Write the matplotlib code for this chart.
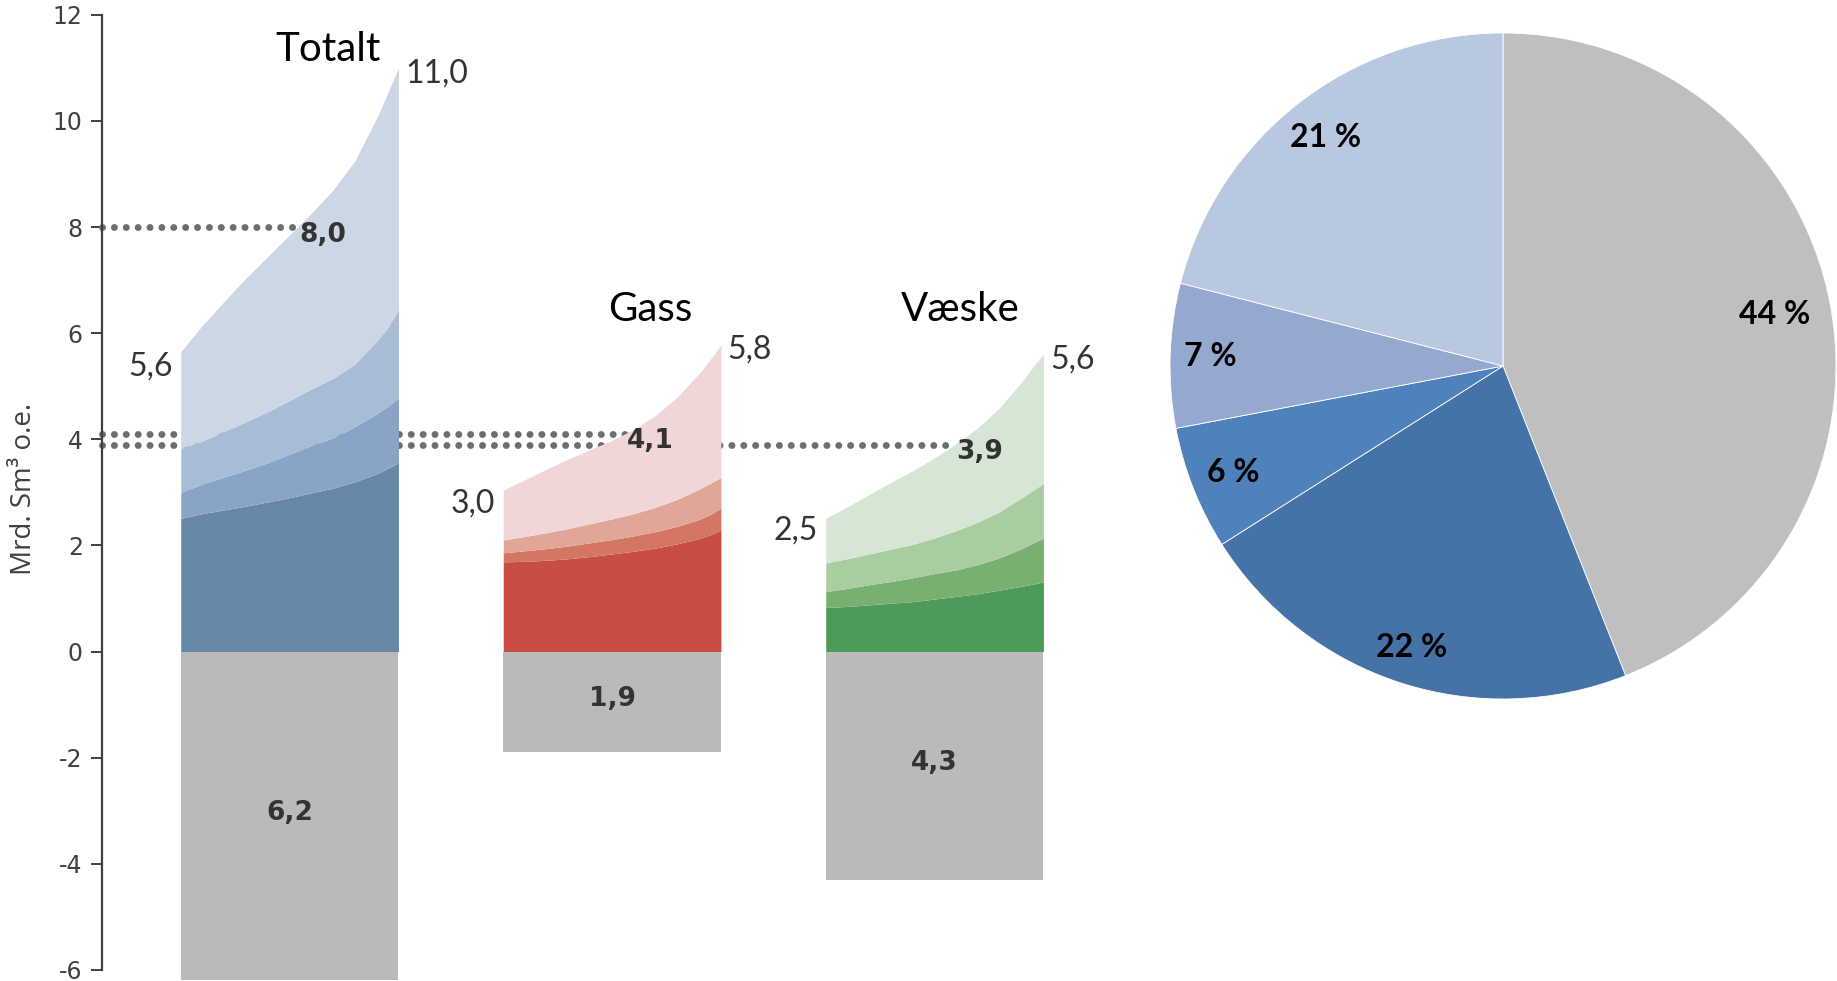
import numpy as np
import matplotlib
matplotlib.use("Agg")
import matplotlib.pyplot as plt

plt.rcParams['font.family'] = ['Open Sans', 'DejaVu Sans']
plt.rcParams['axes.unicode_minus'] = False

# --- data -------------------------------------------------------------
groups = ['Totalt', 'Gass', 'Væske']
t_grid = [0, 0.1, 0.2, 0.3, 0.4, 0.5, 0.6, 0.7, 0.8, 0.9, 0.95, 1.0]

# cumulative layer boundaries (bottom layer -> top), Mrd. Sm3 o.e.
totalt_l1 = [2.51, 2.60, 2.67, 2.74, 2.82, 2.90, 2.99, 3.08, 3.20, 3.35, 3.45, 3.56]
totalt_l2 = [3.00, 3.16, 3.29, 3.42, 3.56, 3.72, 3.88, 4.03, 4.24, 4.48, 4.62, 4.78]
totalt_l3 = [3.83, 3.97, 4.15, 4.33, 4.52, 4.73, 4.95, 5.15, 5.42, 5.85, 6.10, 6.45]
totalt_top = [5.65, 6.15, 6.60, 7.04, 7.45, 7.85, 8.26, 8.70, 9.25, 10.05, 10.52, 11.0]

gass_l1 = [1.69, 1.70, 1.72, 1.75, 1.79, 1.84, 1.89, 1.95, 2.03, 2.13, 2.20, 2.29]
gass_l2 = [1.86, 1.90, 1.94, 1.99, 2.05, 2.11, 2.18, 2.26, 2.36, 2.49, 2.58, 2.70]
gass_l3 = [2.10, 2.17, 2.24, 2.32, 2.41, 2.50, 2.60, 2.72, 2.87, 3.06, 3.17, 3.28]
gass_top = [3.04, 3.24, 3.44, 3.63, 3.81, 3.98, 4.19, 4.45, 4.80, 5.24, 5.50, 5.78]

vaeske_l1 = [0.83, 0.85, 0.88, 0.91, 0.94, 0.99, 1.04, 1.09, 1.16, 1.23, 1.27, 1.31]
vaeske_l2 = [1.13, 1.19, 1.26, 1.32, 1.39, 1.47, 1.54, 1.64, 1.77, 1.94, 2.04, 2.14]
vaeske_l3 = [1.67, 1.75, 1.84, 1.93, 2.02, 2.14, 2.28, 2.44, 2.64, 2.90, 3.03, 3.17]
vaeske_top = [2.51, 2.73, 2.96, 3.19, 3.41, 3.65, 3.92, 4.22, 4.60, 5.08, 5.35, 5.61]

start_values = [5.6, 3.0, 2.5]
mid_values = [8.0, 4.1, 3.9]
end_values = [11.0, 5.8, 5.6]
neg_values = [6.2, 1.9, 4.3]

pie_labels = ['44 %', '22 %', '6 %', '7 %', '21 %']
pie_shares = [44, 22, 6, 7, 21]

# --- styling ----------------------------------------------------------
layers = [
    [totalt_l1, totalt_l2, totalt_l3, totalt_top],
    [gass_l1, gass_l2, gass_l3, gass_top],
    [vaeske_l1, vaeske_l2, vaeske_l3, vaeske_top],
]
colors = [
    ['#6787A6', '#8AA4C8', '#A8BCD5', '#CBD7E5'],
    ['#C84D42', '#D47762', '#E0A797', '#F0D6D7'],
    ['#4E9A58', '#77B06F', '#A9CDA0', '#D5E6D4'],
]
grey = '#BABABA'
pie_colors = ['#BFBFBF', '#4572A7', '#4F81BD', '#95A9D0', '#B9C8E1']
pie_label_dist = [0.83, 0.89, 0.87, 0.88, 0.87]
txt_col = '#333333'
axis_col = '#404040'
dot_col = '#6E6E6E'

bar_w = 0.675
axis_x = -0.581
title_dx = [0.12, 0.118, 0.08]
title_y = [11.34, 6.45, 6.45]


def fmt(v):
    return f"{v:.1f}".replace('.', ',')


W, H = 1837, 981
fig = plt.figure(figsize=(W / 100, H / 100), dpi=100)
ax = fig.add_axes([0, 0, 1160 / W, 1])
ax.set_xlim(-0.898, 2.699)
ax.set_ylim(-6.21, 12.28)

t = np.array(t_grid)
for i, name in enumerate(groups):
    left = i - bar_w / 2
    x = left + t * bar_w
    lower = np.zeros_like(t)
    for lvl, col in zip(layers[i], colors[i]):
        upper = np.array(lvl)
        ax.fill_between(x, lower, upper, color=col, linewidth=0, zorder=3)
        lower = upper
    ax.bar(i, -neg_values[i], width=bar_w, color=grey, zorder=3)

    top = np.array(layers[i][-1])
    # dotted reference line from the axis to where the curve reaches the mid value
    x_hit = left + np.interp(mid_values[i], top, t) * bar_w
    ax.plot([axis_x, x_hit], [mid_values[i]] * 2, color=dot_col, lw=5,
            linestyle=(0, (0.01, 1.7)), dash_capstyle='round', zorder=2)
    ax.text(x_hit + 0.006, mid_values[i] - 0.14, fmt(mid_values[i]),
            family='DejaVu Sans', fontsize=19, fontweight='bold', color=txt_col,
            ha='left', va='center', zorder=5)

    ax.text(left - 0.025, start_values[i] - 0.22, fmt(start_values[i]),
            family='Lato', fontsize=23, color=txt_col, ha='right', va='center')
    ax.text(left + bar_w + 0.02, end_values[i] - 0.1, fmt(end_values[i]),
            family='Lato', fontsize=23, color=txt_col, ha='left', va='center')
    ax.text(i, -neg_values[i] / 2 + 0.05, fmt(neg_values[i]),
            family='DejaVu Sans', fontsize=19, fontweight='bold', color=txt_col,
            ha='center', va='center', zorder=5)
    ax.text(i + title_dx[i], title_y[i], name, family='Lato', fontsize=29,
            color='black', ha='center', va='center')

for s in ['top', 'right', 'bottom']:
    ax.spines[s].set_visible(False)
ax.spines['left'].set_position(('data', axis_x))
ax.spines['left'].set_bounds(-6, 12)
ax.spines['left'].set_color(axis_col)
ax.spines['left'].set_linewidth(1.6)
ax.set_xticks([])
ax.set_yticks(np.arange(-6, 13, 2))
ax.set_yticklabels([str(v) for v in range(-6, 13, 2)], family='DejaVu Sans')
ax.tick_params(axis='y', length=8, width=1.4, color=axis_col, labelsize=17,
               labelcolor=axis_col, pad=6)
ax.text(24.5 / 1160, 0.502, 'Mrd. Sm³ o.e.', transform=ax.transAxes, rotation=90,
        fontsize=20, color=axis_col, ha='center', va='center')
ax.patch.set_alpha(0)

# --- pie --------------------------------------------------------------
cx, cy, r = 1503, 366, 333
pax = fig.add_axes([(cx - r) / W, (H - cy - r) / H, 2 * r / W, 2 * r / H])
wedges, _ = pax.pie(pie_shares, colors=pie_colors, startangle=90, counterclock=False,
                    wedgeprops=dict(edgecolor='white', linewidth=0.6))
for w, lab, d in zip(wedges, pie_labels, pie_label_dist):
    ang = np.deg2rad((w.theta1 + w.theta2) / 2)
    pax.text(d * np.cos(ang), d * np.sin(ang), lab, family='Lato', fontweight='bold',
             fontsize=23, color='black', ha='center', va='center')
pax.set_xlim(-1, 1)
pax.set_ylim(-1, 1)
pax.set_aspect('equal')

fig.savefig('out.png', dpi=100)
